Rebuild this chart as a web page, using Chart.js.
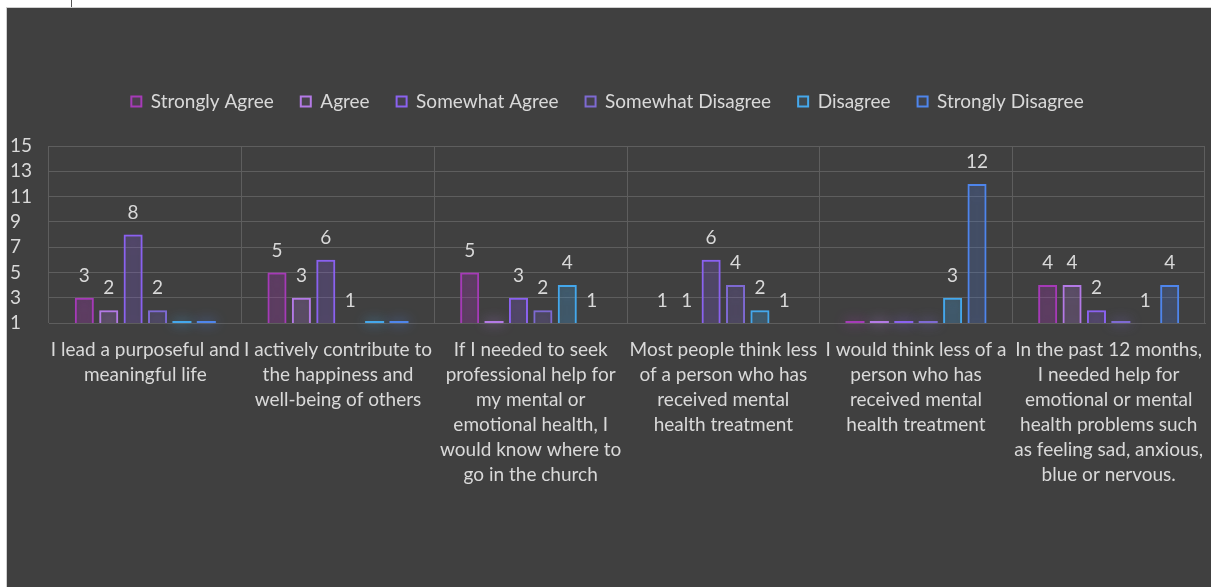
<!DOCTYPE html>
<html>
<head>
<meta charset="utf-8">
<script src="https://cdn.jsdelivr.net/npm/chart.js@4/dist/chart.umd.min.js"></script>
<style>
  body { margin: 0; background: #ffffff; width: 1211px; height: 587px; overflow: hidden; position: relative; }
  #tick { position: absolute; left: 71px; top: 0; width: 1px; height: 7px; background: #555; }
  #panel { position: absolute; left: 6px; top: 7px; width: 1205px; height: 580px; background: #404040; border-left: 1px solid #cfcfcf; border-top: 1px solid #cfcfcf; box-sizing: border-box; }
  canvas { display: block; }
</style>
</head>
<body>
<div id="tick"></div>
<div id="panel"><canvas id="myChart" width="1204" height="579"></canvas></div>
<script>
let categories = [
    ['I lead a purposeful and', 'meaningful life'],
    ['I actively contribute to', 'the happiness and', 'well-being of others'],
    ['If I needed to seek', 'professional help for', 'my mental or', 'emotional health, I', 'would know where to', 'go in the church'],
    ['Most people think less', 'of a person who has', 'received mental', 'health treatment'],
    ['I would think less of a', 'person who has', 'received mental', 'health treatment'],
    ['In the past 12 months,', 'I needed help for', 'emotional or mental', 'health problems such', 'as feeling sad, anxious,', 'blue or nervous.']
];
let stronglyAgree = [3, 5, 5, 1, 0, 4];
let agree = [2, 3, 0, 1, 0, 4];
let somewhatAgree = [8, 6, 3, 6, 0, 2];
let somewhatDisagree = [2, 1, 2, 4, 0, 0];
let disagree = [0, 0, 4, 2, 3, 1];
let stronglyDisagree = [0, 0, 1, 1, 12, 4];
let yTicks = [1, 3, 5, 7, 9, 11, 13, 15];

let font = "'Lato', 'Open Sans', sans-serif";
let textColor = '#d9d9d9';
let gridColor = '#5e5e5e';

function series(label, data, color, fill) {
    return {
        label: label,
        data: data,
        borderColor: color,
        backgroundColor: fill,
        borderWidth: 2,
        borderSkipped: false,
        clip: {left: 20, right: 20, top: 20, bottom: 0}
    };
}

// neon glow round every bar outline
let glow = {
    id: 'glow',
    beforeDatasetDraw(chart, args) {
        let ctx = chart.ctx;
        ctx.save();
        ctx.shadowColor = args.meta.controller.getDataset().borderColor;
        ctx.shadowBlur = 16;
    },
    afterDatasetDraw(chart) {
        chart.ctx.restore();
    }
};

// zero answers show as a flat line on the base, the rest get their count on top
let valueLabels = {
    id: 'valueLabels',
    afterDatasetsDraw(chart) {
        let ctx = chart.ctx;
        let base = chart.scales.y.bottom;
        chart.data.datasets.forEach((ds, i) => {
            let meta = chart.getDatasetMeta(i);
            meta.data.forEach((bar, j) => {
                let v = ds.data[j];
                if (v === 0) {
                    ctx.save();
                    ctx.strokeStyle = ds.borderColor;
                    ctx.shadowColor = ds.borderColor;
                    ctx.shadowBlur = 12;
                    ctx.lineWidth = 2;
                    ctx.beginPath();
                    ctx.moveTo(bar.x - bar.width / 2, base - 1);
                    ctx.lineTo(bar.x + bar.width / 2, base - 1);
                    ctx.stroke();
                    ctx.restore();
                } else {
                    ctx.save();
                    ctx.fillStyle = textColor;
                    ctx.font = '19px ' + font;
                    ctx.textAlign = 'center';
                    ctx.textBaseline = 'middle';
                    ctx.fillText(String(v), bar.x, chart.scales.y.getPixelForValue(v) - 22);
                    ctx.restore();
                }
            });
        });
    }
};

// extra room between the legend and the plot
let legendGap = {
    id: 'legendGap',
    beforeLayout(chart) {
        let legend = chart.legend;
        if (legend && !legend._gapped) {
            let fit = legend.fit;
            legend.fit = function () {
                fit.call(this);
                this.height += 25;
            };
            legend._gapped = true;
        }
    }
};

var ctx = document.getElementById('myChart').getContext('2d');
var chart = new Chart(ctx, {
    type: 'bar',
    data: {
        labels: categories,
        datasets: [
            series('Strongly Agree', stronglyAgree, '#a63bb8', 'rgba(166,59,184,0.12)'),
            series('Agree', agree, '#b47ae6', 'rgba(180,122,230,0.07)'),
            series('Somewhat Agree', somewhatAgree, '#8b62f0', 'rgba(139,98,240,0.07)'),
            series('Somewhat Disagree', somewhatDisagree, '#7e6ad2', 'rgba(126,106,210,0.07)'),
            series('Disagree', disagree, '#45a8ec', 'rgba(69,168,236,0.09)'),
            series('Strongly Disagree', stronglyDisagree, '#4f86ec', 'rgba(79,134,236,0.07)')
        ]
    },
    plugins: [legendGap, glow, valueLabels],
    options: {
        responsive: false,
        animation: false,
        categoryPercentage: 0.76,
        barPercentage: 0.78,
        layout: {padding: {left: 3, right: 6, top: 57, bottom: 64}},
        plugins: {
            legend: {
                position: 'top',
                labels: {
                    color: textColor,
                    font: {family: font, size: 19},
                    boxWidth: 10,
                    boxHeight: 10,
                    padding: 27
                }
            },
            tooltip: {enabled: false}
        },
        scales: {
            x: {
                grid: {color: gridColor, drawTicks: false, offset: true},
                border: {color: gridColor},
                ticks: {
                    color: textColor,
                    font: {family: font, size: 19, lineHeight: 1.316},
                    padding: 14,
                    maxRotation: 0,
                    autoSkip: false
                },
                afterFit(scale) {
                    scale.height = 200;
                    scale.paddingLeft = 0;
                    scale.paddingRight = 0;
                }
            },
            y: {
                min: 1,
                max: 15,
                grid: {color: gridColor, drawTicks: false},
                border: {display: false},
                ticks: {
                    color: textColor,
                    font: {family: font, size: 19},
                    crossAlign: 'far',
                    padding: 0,
                    stepSize: 2,
                    autoSkip: false,
                    callback: (v) => yTicks.includes(v) ? v : null
                },
                afterFit(scale) { scale.width = 39; }
            }
        }
    }
});
</script>
</body>
</html>
